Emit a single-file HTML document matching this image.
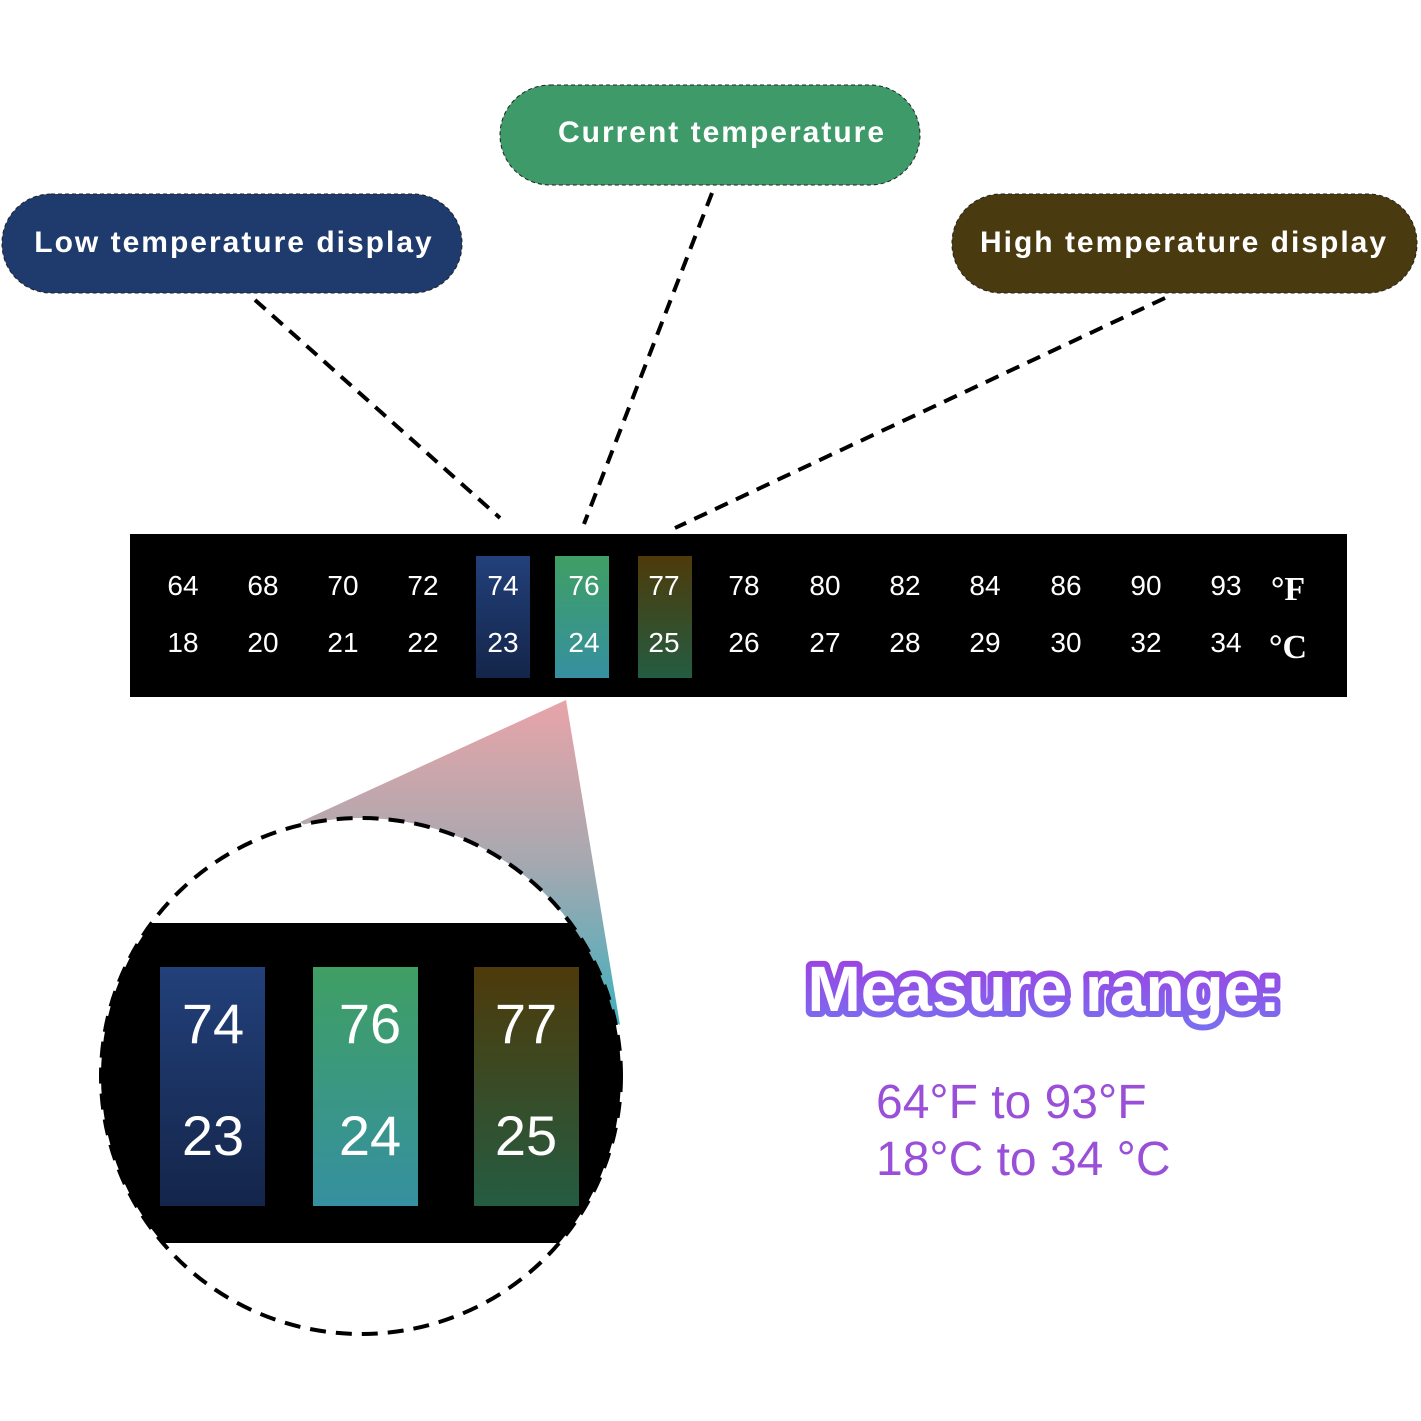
<!DOCTYPE html>
<html><head><meta charset="utf-8"><style>
html,body{margin:0;padding:0;background:#fff;}
svg{display:block;}
text{font-family:"Liberation Sans",Arial,sans-serif;}
</style></head><body>
<svg width="1421" height="1421" viewBox="0 0 1421 1421" xmlns="http://www.w3.org/2000/svg">
<defs>
<linearGradient id="tri" x1="0" y1="0" x2="0" y2="1">
<stop offset="0" stop-color="#e8a4a8"/><stop offset="0.5" stop-color="#a6a8b0"/><stop offset="1" stop-color="#3fb0be"/></linearGradient>
<linearGradient id="gb" x1="0" y1="0" x2="0" y2="1"><stop offset="0" stop-color="#22407a"/><stop offset="1" stop-color="#14254a"/></linearGradient>
<linearGradient id="gg" x1="0" y1="0" x2="0" y2="1"><stop offset="0" stop-color="#3f9f63"/><stop offset="1" stop-color="#3590a0"/></linearGradient>
<linearGradient id="go" x1="0" y1="0" x2="0" y2="1"><stop offset="0" stop-color="#4e3a0a"/><stop offset="1" stop-color="#245c42"/></linearGradient>
<linearGradient id="mr" x1="0" y1="0" x2="0" y2="1"><stop offset="0" stop-color="#a03ee0"/><stop offset="1" stop-color="#7a6ef0"/></linearGradient>
<clipPath id="cc"><ellipse cx="361" cy="1076" rx="260" ry="258"/></clipPath>
</defs>

<!-- pills -->
<rect x="2" y="194" width="460" height="99" rx="49" fill="#1f3a6c" stroke="#222" stroke-dasharray="4 3"/>
<text x="234" y="252" fill="#fff" font-size="30" font-weight="bold" text-anchor="middle" letter-spacing="2">Low temperature display</text>
<rect x="500" y="85" width="420" height="100" rx="50" fill="#3f9a6a" stroke="#222" stroke-dasharray="4 3"/>
<text x="722" y="142" fill="#fff" font-size="30" font-weight="bold" text-anchor="middle" letter-spacing="2">Current temperature</text>
<rect x="952" y="194" width="465" height="99" rx="49" fill="#4a3a10" stroke="#222" stroke-dasharray="4 3"/>
<text x="1184" y="252" fill="#fff" font-size="30" font-weight="bold" text-anchor="middle" letter-spacing="2">High temperature display</text>

<!-- connectors -->
<g stroke="#000" stroke-width="4" stroke-dasharray="14 9" fill="none">
<line x1="255" y1="300" x2="500" y2="518"/>
<line x1="712" y1="193" x2="584" y2="524"/>
<line x1="1165" y1="298" x2="675" y2="528"/>
</g>

<!-- strip -->
<rect x="130" y="534" width="1217" height="163" fill="#000"/>
<rect x="476" y="556" width="54" height="122" fill="url(#gb)"/>
<rect x="555" y="556" width="54" height="122" fill="url(#gg)"/>
<rect x="638" y="556" width="54" height="122" fill="url(#go)"/>
<g fill="#fff" font-size="28" text-anchor="middle">
<text x="183" y="595">64</text><text x="263" y="595">68</text><text x="343" y="595">70</text><text x="423" y="595">72</text><text x="503" y="595">74</text><text x="584" y="595">76</text><text x="664" y="595">77</text><text x="744" y="595">78</text><text x="825" y="595">80</text><text x="905" y="595">82</text><text x="985" y="595">84</text><text x="1066" y="595">86</text><text x="1146" y="595">90</text><text x="1226" y="595">93</text>
<text x="183" y="652">18</text><text x="263" y="652">20</text><text x="343" y="652">21</text><text x="423" y="652">22</text><text x="503" y="652">23</text><text x="584" y="652">24</text><text x="664" y="652">25</text><text x="744" y="652">26</text><text x="825" y="652">27</text><text x="905" y="652">28</text><text x="985" y="652">29</text><text x="1066" y="652">30</text><text x="1146" y="652">32</text><text x="1226" y="652">34</text>
</g>
<text x="1288" y="600" fill="#fff" font-size="34" font-weight="bold" text-anchor="middle" style="font-family:'Liberation Serif',serif">°F</text>
<text x="1288" y="658" fill="#fff" font-size="34" font-weight="bold" text-anchor="middle" style="font-family:'Liberation Serif',serif">°C</text>

<!-- magnifier -->
<polygon points="566,700 300,822 620,1025" fill="url(#tri)"/>
<ellipse cx="361" cy="1076" rx="260" ry="258" fill="#fff"/>
<rect x="90" y="923" width="540" height="320" fill="#000" clip-path="url(#cc)"/>
<ellipse cx="361" cy="1076" rx="260" ry="258" fill="none" stroke="#000" stroke-width="4" stroke-dasharray="16 10"/>
<rect x="160" y="967" width="105" height="239" fill="url(#gb)"/>
<rect x="313" y="967" width="105" height="239" fill="url(#gg)"/>
<rect x="474" y="967" width="105" height="239" fill="url(#go)"/>
<g fill="#fff" font-size="56" text-anchor="middle">
<text x="213" y="1043">74</text><text x="370" y="1043">76</text><text x="526" y="1043">77</text>
<text x="213" y="1155">23</text><text x="370" y="1155">24</text><text x="526" y="1155">25</text>
</g>

<!-- measure range -->
<text x="1044" y="1011" font-size="64" font-weight="bold" text-anchor="middle" fill="#fff" stroke="url(#mr)" stroke-width="12" stroke-linejoin="round" paint-order="stroke" letter-spacing="0">Measure range:</text>
<g fill="#9a4fd8" font-size="48">
<text x="876" y="1118">64°F to 93°F</text>
<text x="876" y="1175">18°C to 34 °C</text>
</g>
</svg>
</body></html>
